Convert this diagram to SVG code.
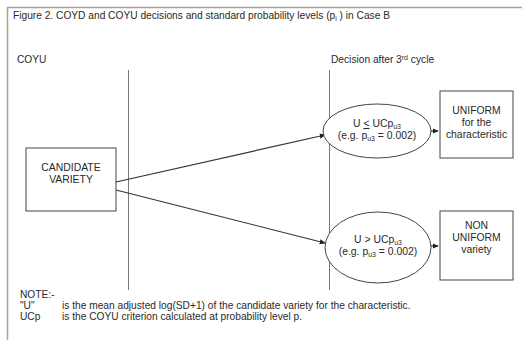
<svg xmlns="http://www.w3.org/2000/svg" width="522" height="343" viewBox="0 0 522 343">
<defs>
<style>
text{font-family:"Liberation Sans",Arial,sans-serif;fill:#2a2a2a;}
.t{font-size:10.2px;}
.c{font-size:10.4px;text-anchor:middle;}
.s{font-size:7px;}
.shape{fill:#fff;stroke:#444;stroke-width:1;}
.div{stroke:#777;stroke-width:1;fill:none;}
.edge{stroke:#333;stroke-width:1.2;fill:none;}
</style>
<marker id="ah" viewBox="0 0 8 8" refX="7" refY="4" markerWidth="6" markerHeight="6" orient="auto" markerUnits="userSpaceOnUse">
<path d="M0,0.5 L8,4 L0,7.5 z" fill="#222"/>
</marker>
</defs>
<rect width="522" height="343" fill="#fff"/>
<path d="M7.5,340 V7.5 H522" fill="none" stroke="#a8a49a" stroke-width="1.5"/>
<text class="t" x="13" y="19">Figure 2. COYD and COYU decisions and standard probability levels (p<tspan class="s" dy="2">i</tspan><tspan dy="-2"> ) in Case B</tspan></text>
<text class="t" x="17" y="63">COYU</text>
<text class="t" x="331" y="63">Decision after 3<tspan class="s" dy="-3">rd</tspan><tspan dy="3"> cycle</tspan></text>
<g id="dividers">
<line class="div" x1="128.5" y1="70" x2="128.5" y2="290"/>
<line class="div" x1="329.5" y1="70" x2="329.5" y2="290"/>
</g>
<g id="connectors">
<line class="edge" x1="116" y1="182" x2="325" y2="135" marker-end="url(#ah)"/>
<line class="edge" x1="116" y1="190" x2="325" y2="243" marker-end="url(#ah)"/>
<line class="edge" x1="431" y1="131" x2="438" y2="131" marker-end="url(#ah)"/>
<line class="edge" x1="431" y1="246" x2="438" y2="246" marker-end="url(#ah)"/>
</g>
<g id="candidate">
<rect class="shape" x="26" y="148" width="90" height="63"/>
<text class="c" x="71" y="171">CANDIDATE</text>
<text class="c" x="71" y="183">VARIETY</text>
</g>
<g id="cond-uniform">
<ellipse class="shape" cx="377" cy="131" rx="54" ry="27"/>
<text class="c" x="377" y="127">U <tspan text-decoration="underline">&lt;</tspan> UCp<tspan class="s" dy="1.5">u3</tspan></text>
<text class="c" x="377" y="139">(e.g. p<tspan class="s" dy="1.5">u3</tspan><tspan dy="-1.5"> = 0.002)</tspan></text>
</g>
<g id="cond-nonuniform">
<ellipse class="shape" cx="378" cy="247.5" rx="53" ry="35.5"/>
<text class="c" x="378" y="243">U &gt; UCp<tspan class="s" dy="1.5">u3</tspan></text>
<text class="c" x="378" y="255">(e.g. p<tspan class="s" dy="1.5">u3</tspan><tspan dy="-1.5"> = 0.002)</tspan></text>
</g>
<g id="uniform">
<rect class="shape" x="440" y="91" width="73" height="67"/>
<text class="c" x="476.5" y="114">UNIFORM</text>
<text class="c" x="476.5" y="126">for the</text>
<text class="c" x="476.5" y="138">characteristic</text>
</g>
<g id="nonuniform">
<rect class="shape" x="440" y="211" width="73" height="69"/>
<text class="c" x="476.5" y="229">NON</text>
<text class="c" x="476.5" y="241">UNIFORM</text>
<text class="c" x="476.5" y="253">variety</text>
</g>
<g id="note">
<text class="t" x="20" y="298">NOTE:-</text>
<text class="t" x="20" y="309">"U"</text>
<text class="t" x="62" y="309">is the mean adjusted log(SD+1) of the candidate variety for the characteristic.</text>
<text class="t" x="20" y="320">UCp</text>
<text class="t" x="62" y="320">is the COYU criterion calculated at probability level p.</text>
</g>
</svg>
